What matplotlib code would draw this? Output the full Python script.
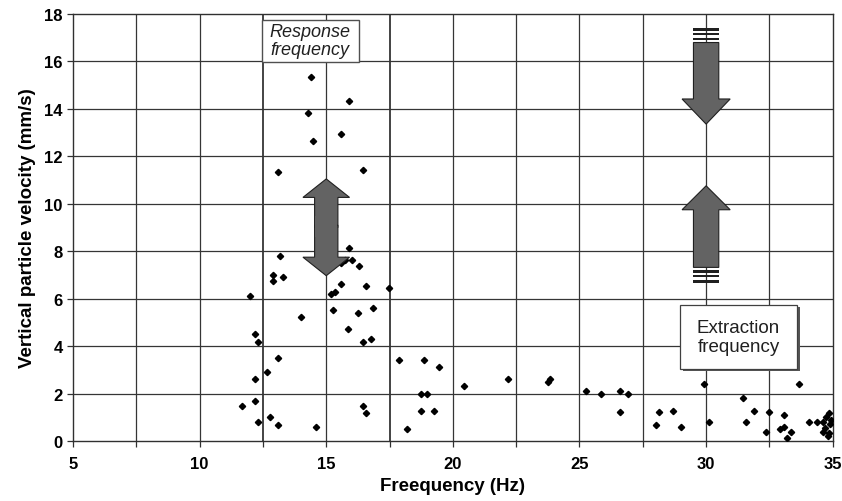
import matplotlib.pyplot as plt
import matplotlib.patches as mpatches
import numpy as np

# frequency (Hz) and vertical particle velocity (mm/s)
freq = [14.39, 15.89, 14.29, 15.59, 14.46, 13.10, 16.44,
        15.89, 15.63, 15.57, 15.76, 16.00, 16.29, 13.18, 12.88, 12.88, 13.31,
        12.00, 15.59, 15.34, 15.17, 16.57, 17.47, 15.27, 16.85, 16.26, 13.99,
        15.87, 16.76, 16.46, 12.20, 12.30, 13.11, 17.86, 12.68, 12.20, 12.20,
        11.67, 16.46, 16.56, 12.79, 12.29, 13.10, 14.58, 18.19,
        18.85, 19.46, 18.75, 18.97, 18.75, 19.26, 20.44, 22.16, 23.76, 23.82,
        25.24, 25.83, 26.61, 26.90, 26.61, 28.12, 28.02, 28.71, 29.00, 29.92,
        30.11, 31.47, 31.89, 31.59, 33.65, 32.49, 33.09, 32.38, 32.91, 33.06,
        33.36, 33.19, 34.08, 34.37,
        34.85, 34.75, 34.60, 34.90, 34.70, 34.60, 34.85, 34.95, 34.80]
velocity = [15.33, 14.32, 13.84, 12.94, 12.63, 11.33, 11.44,
            8.12, 7.60, 7.50, 7.64, 7.63, 7.39, 7.80, 7.01, 6.73, 6.90,
            6.13, 6.61, 6.30, 6.20, 6.52, 6.44, 5.52, 5.62, 5.40, 5.23,
            4.72, 4.30, 4.19, 4.50, 4.19, 3.50, 3.41, 2.92, 2.61, 1.70,
            1.49, 1.49, 1.18, 1.00, 0.79, 0.67, 0.59, 0.51,
            3.43, 3.12, 2.00, 2.00, 1.26, 1.26, 2.31, 2.61, 2.50, 2.61,
            2.09, 2.00, 2.09, 2.00, 1.21, 1.21, 0.67, 1.28, 0.60, 2.40,
            0.79, 1.80, 1.28, 0.79, 2.40, 1.21, 1.11, 0.39, 0.51, 0.58,
            0.39, 0.11, 0.81, 0.81,
            1.20, 1.00, 0.80, 0.70, 0.55, 0.40, 0.35, 0.90, 0.20]

xticks = [5, 10, 15, 20, 25, 30, 35]
yticks = [0, 2, 4, 6, 8, 10, 12, 14, 16, 18]

plt.rcParams['font.family'] = ['Liberation Sans', 'DejaVu Sans']

fig = plt.figure(figsize=(8.42, 5.02), dpi=100)
ax = fig.add_axes([0.0867, 0.1195, 0.9023, 0.8505])
ax.set_xlim(5, 35)
ax.set_ylim(0, 18)

# grid
for gx in np.arange(7.5, 35, 2.5):
    lw = 1.3 if gx in (12.5, 17.5) else 0.9
    ax.axvline(gx, color='#353535', lw=lw, zorder=1)
for gy in yticks[1:-1]:
    ax.axhline(gy, color='#353535', lw=0.9, zorder=1)

ax.plot(freq, velocity, 'kD', markersize=3.2, zorder=5)

ax.set_xticks(xticks)
ax.set_xticks(np.arange(7.5, 35, 2.5), minor=True)
ax.set_yticks(yticks)
ax.tick_params(axis='both', which='both', direction='out', length=4, width=0.9,
               color='#303030', labelsize=12)
ax.tick_params(axis='x', pad=7)
for lab in ax.get_xticklabels() + ax.get_yticklabels():
    lab.set_fontweight('bold')
for sp in ax.spines.values():
    sp.set_color('#303030')
    sp.set_linewidth(1.0)

ax.set_xlabel('Freequency (Hz)', fontsize=13.5, fontweight='bold', labelpad=4)
ax.set_ylabel('Vertical particle velocity (mm/s)', fontsize=13.5, fontweight='bold', labelpad=6)

arrow_col = '#636363'

# response frequency double arrow at 15 Hz
ax.add_patch(mpatches.FancyArrow(15, 9.0, 0, 2.05, width=0.92, head_width=1.84,
                                 head_length=0.78, length_includes_head=True,
                                 fc=arrow_col, ec='#202020', lw=0.8, zorder=6))
ax.add_patch(mpatches.FancyArrow(15, 9.1, 0, -2.13, width=0.92, head_width=1.84,
                                 head_length=0.78, length_includes_head=True,
                                 fc=arrow_col, ec='#202020', lw=0.8, zorder=6))
ax.add_patch(mpatches.Rectangle((14.56, 8.6), 0.88, 0.9, fc=arrow_col, ec='none', zorder=7))

# extraction frequency arrows at 30 Hz
ax.add_patch(mpatches.FancyArrow(30, 16.8, 0, -3.44, width=1.0, head_width=1.9,
                                 head_length=1.06, length_includes_head=True,
                                 fc=arrow_col, ec='#202020', lw=0.8, zorder=6))
ax.add_patch(mpatches.FancyArrow(30, 7.32, 0, 3.44, width=1.0, head_width=1.9,
                                 head_length=1.01, length_includes_head=True,
                                 fc=arrow_col, ec='#202020', lw=0.8, zorder=6))
for sy in [17.35, 17.15, 16.95, 7.14, 6.95, 6.72]:
    ax.add_patch(mpatches.Rectangle((29.5, sy - 0.05), 1.0, 0.1, fc='#202020',
                                    ec='none', zorder=6))

# label boxes
ax.add_patch(mpatches.Rectangle((12.45, 15.99), 3.83, 1.77, fc='white', ec='#505050',
                                lw=1.0, zorder=8))
ax.text(14.37, 16.88, 'Response\nfrequency', style='italic', fontsize=13,
        ha='center', va='center', linespacing=1.05, zorder=9, color='#202020')
ax.add_patch(mpatches.Rectangle((29.07, 2.95), 4.62, 2.7, fc='#555555', ec='none', zorder=7))
ax.add_patch(mpatches.Rectangle((28.97, 3.05), 4.62, 2.7, fc='white', ec='#404040',
                                lw=0.9, zorder=8))
ax.text(31.28, 4.38, 'Extraction\nfrequency', fontsize=13.5, ha='center', va='center',
        linespacing=1.15, zorder=9, color='#202020')

fig.savefig('out.png', dpi=100)
